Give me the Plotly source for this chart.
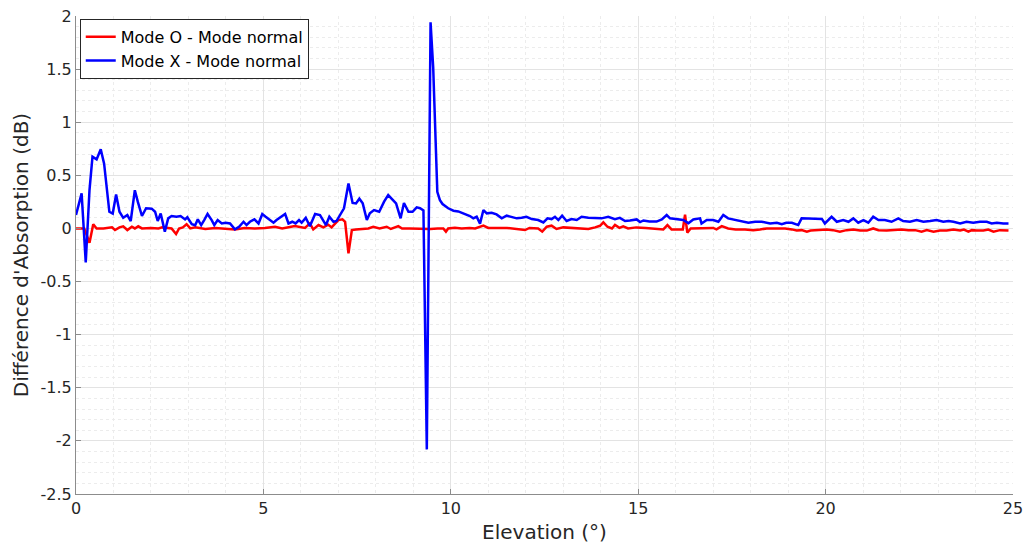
import plotly.graph_objects as go

# ---- Data ----
mode_o_x = [0, 0.22, 0.36, 0.46, 0.55, 0.73, 0.96, 1.04, 1.16, 1.26, 1.37, 1.49, 1.57, 1.66, 1.76,
            2.0, 2.2, 2.3, 2.55, 2.67, 2.75, 2.85, 2.95, 3.05, 3.18, 3.45, 3.72, 3.99, 4.24, 4.5,
            4.77, 5.04, 5.31, 5.5, 5.84, 6.11, 6.24, 6.33, 6.47, 6.6, 6.73, 6.82, 6.91, 7.0, 7.11,
            7.18, 7.27, 7.36, 7.47, 7.67, 7.8, 7.93, 8.1, 8.29, 8.4, 8.6, 8.7, 8.9, 9.2, 9.45,
            9.65, 9.8, 9.87, 9.93, 10.11, 10.29, 10.5, 10.65, 10.87, 11.0, 11.5, 11.98, 12.1, 12.33, 12.44,
            12.56, 12.69, 12.82, 13.0, 13.3, 13.5, 13.67, 13.85, 13.98, 14.07, 14.18, 14.3, 14.38, 14.5, 14.6,
            14.73, 14.95, 15.2, 15.45, 15.67, 15.78, 15.89, 16.05, 16.19, 16.25, 16.31, 16.4, 16.6, 16.8, 17.0,
            17.09, 17.23, 17.4, 17.6, 17.85, 18.07, 18.25, 18.43, 18.7, 18.92, 19.1, 19.23, 19.36, 19.5, 19.6,
            19.85, 20.03, 20.2, 20.38, 20.56, 20.74, 20.92, 21.1, 21.27, 21.41, 21.63, 21.81, 22.03, 22.21, 22.39,
            22.56, 22.7, 22.88, 23.05, 23.23, 23.41, 23.59, 23.69, 23.81, 23.9, 24.03, 24.21, 24.34, 24.48, 24.65,
            24.88]
mode_o_y = [0.0, 0.0, -0.135, 0.04, 0.0, 0.0, 0.01, -0.015, 0.01, 0.02, -0.015, 0.016, 0.0, 0.02, 0.0,
            0.005, 0.0, 0.01, 0.0, -0.053, 0.0, 0.01, 0.04, 0.0, 0.01, -0.005, 0.005, 0.0, -0.009, 0.005,
            0.0, 0.005, 0.016, 0.0, 0.022, 0.005, 0.047, -0.009, 0.032, 0.01, 0.035, 0.01, 0.047, 0.079, 0.086,
            0.063, -0.235, -0.015, -0.009, -0.005, 0.0, 0.016, 0.0, 0.016, -0.005, 0.022, 0.0, 0.0, -0.005, -0.005,
            0.0, 0.0, -0.03, 0.0, 0.007, 0.0, 0.005, 0.0, 0.026, 0.005, 0.005, -0.015, 0.005, 0.0, -0.03,
            0.016, 0.026, -0.005, 0.01, 0.005, 0.0, -0.005, 0.01, 0.025, 0.057, 0.016, 0.0, 0.033, 0.005, 0.02,
            0.0, 0.01, 0.005, 0.0, -0.009, 0.032, -0.009, -0.009, -0.009, 0.13, -0.04, 0.0, 0.0, 0.0, 0.005,
            -0.009, 0.022, 0.0, -0.009, -0.009, -0.016, -0.009, 0.0, 0.0, 0.0, -0.009, -0.02, -0.016, -0.03, -0.02,
            -0.016, -0.01, -0.016, -0.03, -0.016, -0.01, -0.02, -0.02, 0.0, -0.016, -0.02, -0.016, -0.01, -0.016, -0.016,
            -0.03, -0.016, -0.03, -0.02, -0.02, -0.01, -0.02, -0.01, -0.03, -0.016, -0.02, -0.02, -0.01, -0.03, -0.016,
            -0.02]

mode_x_x = [0, 0.15, 0.26, 0.36, 0.44, 0.55, 0.66, 0.75, 0.89, 0.98, 1.07, 1.16, 1.26, 1.37, 1.46,
            1.57, 1.65, 1.76, 1.87, 2.02, 2.11, 2.18, 2.26, 2.37, 2.46, 2.55, 2.68, 2.79, 2.91, 2.97,
            3.09, 3.18, 3.25, 3.34, 3.42, 3.51, 3.62, 3.69, 3.78, 3.89, 3.99, 4.11, 4.24, 4.35, 4.47,
            4.55, 4.64, 4.76, 4.87, 4.97, 5.06, 5.18, 5.27, 5.35, 5.47, 5.58, 5.67, 5.77, 5.86, 5.95,
            6.02, 6.13, 6.24, 6.38, 6.51, 6.6, 6.67, 6.76, 6.87, 6.95, 7.04, 7.15, 7.27, 7.38, 7.47,
            7.56, 7.65, 7.76, 7.84, 7.95, 8.09, 8.22, 8.33, 8.45, 8.54, 8.66, 8.75, 8.87, 8.98, 9.09,
            9.18, 9.27, 9.36, 9.46, 9.53, 9.64, 9.71, 9.78, 9.93, 10.07, 10.2, 10.33, 10.51, 10.6, 10.69,
            10.78, 10.87, 10.96, 11.09, 11.22, 11.36, 11.49, 11.62, 11.76, 11.89, 12.02, 12.16, 12.33, 12.47, 12.58,
            12.69, 12.78, 12.87, 12.97, 13.09, 13.22, 13.36, 13.49, 13.67, 13.85, 14.02, 14.2, 14.38, 14.51, 14.65,
            14.78, 14.96, 15.05, 15.14, 15.3, 15.49, 15.63, 15.76, 15.85, 16.03, 16.2, 16.34, 16.47, 16.65, 16.69,
            16.83, 17.0, 17.14, 17.27, 17.4, 17.58, 17.76, 17.94, 18.12, 18.3, 18.52, 18.7, 18.83, 18.95, 19.1,
            19.2, 19.27, 19.36, 19.58, 19.76, 19.9, 19.98, 20.16, 20.3, 20.47, 20.61, 20.74, 20.87, 21.01, 21.14,
            21.27, 21.41, 21.58, 21.76, 21.94, 22.07, 22.25, 22.43, 22.61, 22.79, 22.96, 23.14, 23.28, 23.41, 23.59,
            23.76, 23.94, 24.12, 24.3, 24.43, 24.57, 24.74, 24.88]
mode_x_y = [0.126, 0.33, -0.32, 0.36, 0.675, 0.65, 0.745, 0.61, 0.157, 0.14, 0.32, 0.157, 0.10, 0.126, 0.07,
            0.36, 0.25, 0.117, 0.19, 0.186, 0.157, 0.07, 0.14, -0.03, 0.095, 0.117, 0.11, 0.117, 0.085, 0.105,
            0.04, 0.03, 0.086, 0.032, 0.079, 0.136, 0.079, 0.032, 0.079, 0.047, 0.054, 0.047, -0.009, 0.016, 0.063,
            0.032, 0.063, 0.086, 0.047, 0.136, 0.11, 0.079, 0.054, 0.079, 0.11, 0.136, 0.047, 0.063, 0.047, 0.079,
            0.054, 0.1, 0.02, 0.136, 0.126, 0.079, 0.032, 0.11, 0.063, 0.07, 0.126, 0.19, 0.424, 0.24, 0.236,
            0.28, 0.236, 0.079, 0.142, 0.173, 0.157, 0.252, 0.314, 0.267, 0.236, 0.095, 0.24, 0.157, 0.157, 0.198,
            0.19, 0.17, -2.08, 1.94, 1.52, 0.345, 0.267, 0.23, 0.19, 0.167, 0.16, 0.142, 0.117, 0.095, 0.11,
            0.045, 0.173, 0.142, 0.148, 0.132, 0.095, 0.12, 0.11, 0.095, 0.1, 0.11, 0.088, 0.079, 0.057, 0.095,
            0.088, 0.11, 0.079, 0.12, 0.07, 0.088, 0.079, 0.11, 0.1, 0.1, 0.095, 0.11, 0.088, 0.1, 0.07,
            0.075, 0.085, 0.06, 0.075, 0.065, 0.065, 0.085, 0.126, 0.095, 0.09, 0.08, 0.05, 0.085, 0.095, 0.047,
            0.079, 0.08, 0.063, 0.126, 0.095, 0.079, 0.063, 0.054, 0.063, 0.063, 0.047, 0.054, 0.04, 0.054, 0.054,
            0.04, 0.032, 0.095, 0.095, 0.095, 0.09, 0.047, 0.11, 0.063, 0.079, 0.063, 0.095, 0.054, 0.079, 0.054,
            0.11, 0.079, 0.079, 0.063, 0.095, 0.07, 0.063, 0.079, 0.063, 0.07, 0.079, 0.063, 0.07, 0.063, 0.047,
            0.063, 0.054, 0.063, 0.063, 0.047, 0.054, 0.047, 0.047]

x_tick_vals = [0, 5, 10, 15, 20, 25]
x_tick_text = ["0", "5", "10", "15", "20", "25"]
y_tick_vals = [2, 1.5, 1, 0.5, 0, -0.5, -1, -1.5, -2, -2.5]
y_tick_text = ["2", "1.5", "1", "0.5", "0", "-0.5", "-1", "-1.5", "-2", "-2.5"]

series_names = ["Mode O - Mode normal", "Mode X - Mode normal"]
series_colors = ["#ff0000", "#0000ff"]

FONT = "DejaVu Sans"
TXT = "#262626"

fig = go.Figure()
fig.add_trace(go.Scatter(x=mode_o_x, y=mode_o_y, mode="lines", name=series_names[0],
                         line=dict(color=series_colors[0], width=2.5)))
fig.add_trace(go.Scatter(x=mode_x_x, y=mode_x_y, mode="lines", name=series_names[1],
                         line=dict(color=series_colors[1], width=2.5)))

axis_common = dict(
    showline=True, linecolor="#8c8c8c", linewidth=1,
    ticks="inside", ticklen=5, tickcolor="#8c8c8c",
    showgrid=True, gridcolor="#e3e3e3", gridwidth=1,
    zeroline=False, automargin=False,
    tickfont=dict(family=FONT, size=16, color=TXT),
)

fig.update_layout(
    width=1027, height=544,
    margin=dict(l=76, r=14, t=16, b=50),
    paper_bgcolor="white", plot_bgcolor="white",
    font=dict(family=FONT, color=TXT),
    showlegend=True,
    legend=dict(x=0.004, y=0.994, xanchor="left", yanchor="top",
                bgcolor="white", bordercolor="#262626", borderwidth=1,
                font=dict(family=FONT, size=16, color="#000000"),
                tracegroupgap=0),
)
fig.update_xaxes(
    range=[0, 25], tickvals=x_tick_vals, ticktext=x_tick_text,
    title=dict(text="Elevation (°)", font=dict(family=FONT, size=20, color=TXT), standoff=9),
    minor=dict(dtick=1, showgrid=True, gridcolor="#ececec", griddash="dot", ticks=""),
    **axis_common,
)
fig.update_yaxes(
    range=[-2.5, 2], tickvals=y_tick_vals, ticktext=y_tick_text,
    title=dict(text="Différence d'Absorption (dB)", font=dict(family=FONT, size=20, color=TXT), standoff=6),
    minor=dict(dtick=0.1, showgrid=True, gridcolor="#ececec", griddash="dot", ticks=""),
    **axis_common,
)

fig.write_html(
    "out.html",
    config={"displayModeBar": False},
    post_script="document.body.style.margin='0px';document.body.style.overflow='hidden';",
)
